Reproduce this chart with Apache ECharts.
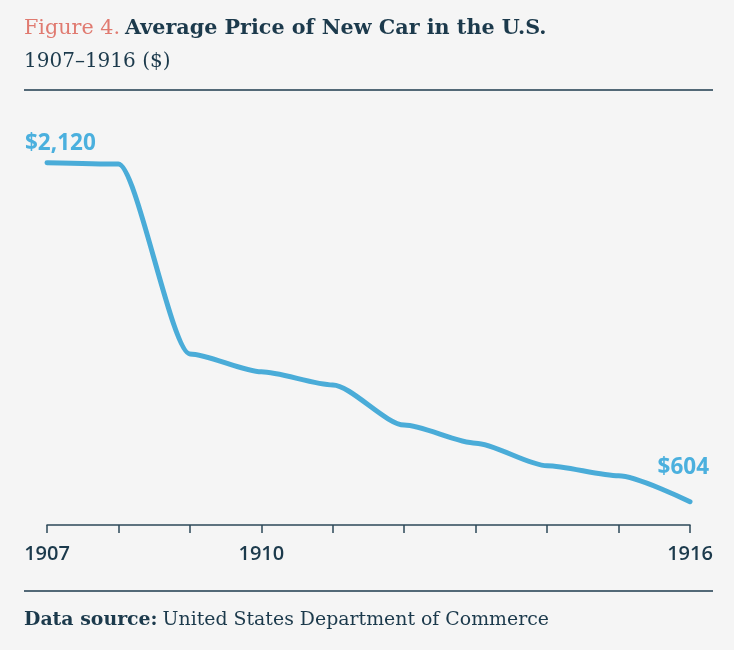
<!DOCTYPE html>
<html>
<head>
<meta charset="utf-8">
<script src="https://cdn.jsdelivr.net/npm/echarts@6/dist/echarts.min.js"></script>
<style>
  html, body { margin: 0; padding: 0; background: #f5f5f5; }
  #chart { width: 734px; height: 650px; }
</style>
</head>
<body>
<div id="chart"></div>
<script>
// data
const years = ['1907', '1908', '1909', '1910', '1911', '1912', '1913', '1914', '1915', '1916']
const prices = [2120, 2114, 1265, 1185, 1126, 947, 866, 765, 720, 604]
const shownYears = ['1907', '1910', '1916']

const navy = '#1c3a4c'
const salmon = '#e07a70'
const blue = '#4aacd8'
const serif = '"DejaVu Serif", serif'
const sans = '"Open Sans", sans-serif'

var chartDom = document.getElementById('chart')
var myChart = echarts.init(chartDom)

const last = prices.length - 1
const seriesData = prices.map((v, i) => {
  if (i === 0) {
    return {
      value: v,
      label: { show: true, position: 'top', align: 'left', offset: [-22, -2] }
    }
  }
  if (i === last) {
    return {
      value: v,
      label: { show: true, position: 'top', align: 'right', offset: [19, -17] }
    }
  }
  return v
})

const option = {
  backgroundColor: '#f5f5f5',
  animation: false,
  title: [
    {
      left: 24,
      top: 18,
      padding: 0,
      text: '{a|Figure 4.} {b|Average Price of New Car in the U.S.}',
      textStyle: {
        rich: {
          a: { fontFamily: serif, fontSize: 20.7, fontWeight: 'normal', color: salmon },
          b: { fontFamily: serif, fontSize: 20.7, fontWeight: 'bold', color: navy }
        }
      }
    },
    {
      left: 24,
      top: 52,
      padding: 0,
      text: '1907–1916 ($)',
      textStyle: { fontFamily: serif, fontSize: 20, fontWeight: 'normal', color: navy }
    },
    {
      left: 24,
      top: 611,
      padding: 0,
      text: '{a|Data source:} {b|United States Department of Commerce}',
      textStyle: {
        rich: {
          a: { fontFamily: serif, fontSize: 18.9, fontWeight: 'bold', color: navy },
          b: { fontFamily: serif, fontSize: 18.9, fontWeight: 'normal', color: navy }
        }
      }
    }
  ],
  graphic: [
    { type: 'line', shape: { x1: 24, y1: 90, x2: 713, y2: 90 }, style: { stroke: navy, lineWidth: 1.5 } },
    { type: 'line', shape: { x1: 24, y1: 591, x2: 713, y2: 591 }, style: { stroke: navy, lineWidth: 1.5 } }
  ],
  grid: { left: 47, right: 44, top: 144.8, bottom: 125, containLabel: false },
  xAxis: {
    type: 'category',
    data: years,
    boundaryGap: false,
    axisLine: { lineStyle: { color: '#2d4858', width: 1.5 } },
    axisTick: { show: true, interval: 0, length: 8, lineStyle: { color: '#2d4858', width: 1.5 } },
    axisLabel: {
      interval: 0,
      margin: 19,
      fontFamily: sans,
      fontSize: 20,
      fontWeight: 600,
      color: navy,
      formatter: v => shownYears.includes(v) ? v : ''
    },
    splitLine: { show: false }
  },
  yAxis: {
    type: 'value',
    min: 500,
    max: 2200,
    show: false
  },
  series: [
    {
      type: 'line',
      data: seriesData,
      smooth: 0.25,
      smoothMonotone: 'x',
      symbol: 'circle',
      symbolSize: 1,
      itemStyle: { color: blue },
      lineStyle: { color: blue, width: 5, cap: 'round', join: 'round' },
      label: {
        show: false,
        fontFamily: sans,
        fontSize: 22.5,
        fontWeight: 'bold',
        color: '#4bb0de',
        formatter: p => '$' + p.value.toLocaleString('en-US')
      }
    }
  ]
}

option && myChart.setOption(option)
</script>
</body>
</html>
